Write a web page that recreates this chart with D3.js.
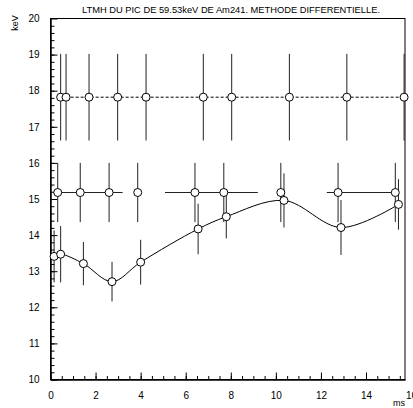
<!DOCTYPE html>
<meta charset="utf-8">
<script src="https://d3js.org/d3.v7.min.js"></script>
<style>
  body { margin: 0; background: #fff; }
  text { font-family: "Liberation Sans", Arial, sans-serif; fill: #000; }
</style>
<div id="my_dataviz"></div>
<script>

// data
var topX  = [0.45, 0.69, 1.71, 2.98, 4.24, 6.78, 8.04, 10.60, 13.15, 15.69];
var topY  = [17.82, 17.82, 17.82, 17.82, 17.82, 17.82, 17.82, 17.82, 17.82, 17.82];
var topEy = [1.2, 1.2, 1.2, 1.2, 1.2, 1.2, 1.2, 1.2, 1.2, 1.2];

var midX   = [0.32, 1.32, 2.60, 3.87, 6.41, 7.69, 10.22, 12.76, 15.30];
var midY   = [15.18, 15.18, 15.18, 15.18, 15.18, 15.18, 15.18, 15.18, 15.18];
var midEy  = [0.82, 0.82, 0.82, 0.82, 0.82, 0.82, 0.82, 0.82, 0.82];
var midExL = [0, 0, 0, 0, 1.33, 0, 0, 0.50, 0];
var midExH = [1.00, 1.28, 0.60, 0, 1.28, 1.51, 0, 2.54, 0];

var botX  = [0.16, 0.45, 1.46, 2.73, 4.00, 6.55, 7.80, 10.36, 12.89, 15.44];
var botY  = [13.41, 13.47, 13.21, 12.71, 13.25, 14.17, 14.51, 14.96, 14.21, 14.85];
var botEy = [0.72, 0.78, 0.60, 0.55, 0.62, 0.70, 0.60, 0.75, 0.76, 0.70];

var xTicks = [0, 2, 4, 6, 8, 10, 12, 14, 16];
var yTicks = [10, 11, 12, 13, 14, 15, 16, 17, 18, 19, 20];

var title = "LTMH DU PIC DE 59.53keV DE Am241. METHODE DIFFERENTIELLE.";

var width = 413, height = 408;

var svg = d3.select("#my_dataviz")
  .append("svg")
    .attr("width", width)
    .attr("height", height);

var xMax = 15.73;
var x = d3.scaleLinear().domain([0, xMax]).range([50.5, 405]);
var y = d3.scaleLinear().domain([10, 20]).range([379.5, 18.5]);

svg.append("clipPath").attr("id", "frame")
  .append("rect")
    .attr("x", x(0)).attr("y", y(20) - 1)
    .attr("width", x(xMax) - x(0) + 1).attr("height", y(10) - y(20) + 1);

// frame
svg.append("rect")
  .attr("x", x(0)).attr("y", y(20))
  .attr("width", x(xMax) - x(0)).attr("height", y(10) - y(20))
  .attr("fill", "none").attr("stroke", "#000").attr("stroke-width", 1);

// X axis (ticks pointing inside)
svg.append("g")
  .attr("transform", "translate(0," + y(10) + ")")
  .call(d3.axisBottom(x).tickValues(d3.range(0, 15.6, 0.5)).tickSizeInner(-3.5).tickSizeOuter(0).tickFormat(""))
  .call(function(g) { g.select(".domain").remove(); });
var xa = svg.append("g")
  .attr("transform", "translate(0," + y(10) + ")")
  .call(d3.axisBottom(x).tickValues(xTicks).tickSizeInner(-7).tickSizeOuter(0).tickPadding(12))
xa.select(".domain").attr("stroke-width", 1.5);
xa.selectAll(".tick").filter(function(d) { return d > xMax; }).select("line").remove();
xa.selectAll("text").style("font-size", "10px");

// Y axis
svg.append("g")
  .attr("transform", "translate(" + x(0) + ",0)")
  .call(d3.axisLeft(y).tickValues(d3.range(10, 20, 0.2)).tickSizeInner(-4).tickSizeOuter(0).tickFormat(""))
  .call(function(g) { g.select(".domain").remove(); });
var ya = svg.append("g")
  .attr("transform", "translate(" + x(0) + ",0)")
  .call(d3.axisLeft(y).tickValues(yTicks).tickSizeInner(-7).tickSizeOuter(0).tickPadding(11))
ya.select(".domain").attr("stroke-width", 1.5);
ya.selectAll("text").style("font-size", "10px");

svg.selectAll(".tick line").attr("stroke", "#000");

// labels
svg.append("text")
  .attr("x", 231).attr("y", 13)
  .attr("text-anchor", "middle")
  .attr("textLength", 298).attr("lengthAdjust", "spacingAndGlyphs")
  .style("font-size", "9px")
  .text(title);

svg.append("text")
  .attr("transform", "translate(18,23)rotate(-90)")
  .attr("text-anchor", "middle")
  .style("font-size", "9px")
  .text("keV");

svg.append("text")
  .attr("x", 405).attr("y", 406)
  .attr("text-anchor", "end")
  .style("font-size", "9px")
  .text("ms");

var plot = svg.append("g").attr("clip-path", "url(#frame)");

function series(xs, ys, eys, exl, exh) {
  var g = plot.append("g");
  xs.forEach(function(d, i) {
    g.append("line")
      .attr("x1", x(d)).attr("x2", x(d))
      .attr("y1", y(ys[i] - eys[i])).attr("y2", y(ys[i] + eys[i]))
      .attr("stroke", "#222").attr("stroke-width", 1);
    if (exl && (exl[i] > 0 || exh[i] > 0)) {
      g.append("line")
        .attr("x1", x(d - exl[i])).attr("x2", x(d + exh[i]))
        .attr("y1", y(ys[i])).attr("y2", y(ys[i]))
        .attr("stroke", "#222").attr("stroke-width", 1);
    }
  });
  return g;
}

// top series: dashed line
plot.append("path")
  .datum(topX.map(function(d, i) { return [d, topY[i]]; }))
  .attr("fill", "none").attr("stroke", "#000").attr("stroke-width", 1)
  .attr("stroke-dasharray", "3,2")
  .attr("d", d3.line().x(function(d) { return x(d[0]); }).y(function(d) { return y(d[1]); }));
series(topX, topY, topEy);

// middle series
series(midX, midY, midEy, midExL, midExH);

// bottom series with smooth curve
series(botX, botY, botEy);
plot.append("path")
  .datum(botX.map(function(d, i) { return [d, botY[i]]; }))
  .attr("fill", "none").attr("stroke", "#000").attr("stroke-width", 1)
  .attr("d", d3.line().curve(d3.curveCatmullRom.alpha(0.5))
    .x(function(d) { return x(d[0]); }).y(function(d) { return y(d[1]); }));

// markers
function markers(xs, ys) {
  svg.append("g").selectAll("circle")
    .data(xs)
    .enter()
    .append("circle")
      .attr("cx", function(d) { return x(d); })
      .attr("cy", function(d, i) { return y(ys[i]); })
      .attr("r", 4)
      .attr("fill", "#fff").attr("stroke", "#000").attr("stroke-width", 1);
}
markers(topX, topY);
markers(midX, midY);
markers(botX, botY);

</script>
